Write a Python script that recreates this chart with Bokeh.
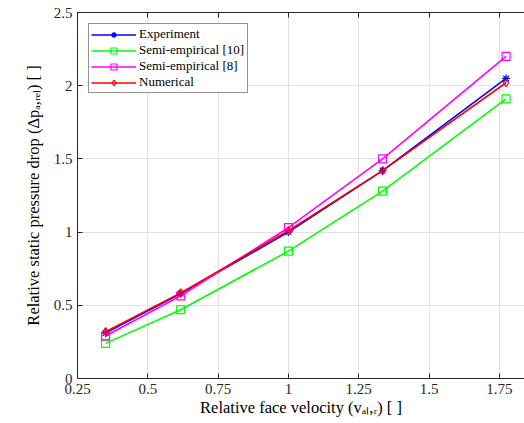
from bokeh.plotting import figure
from bokeh.models import Range1d, FixedTicker, LinearAxis, Legend, LegendItem
from bokeh.embed import file_html
from bokeh.resources import INLINE

# ---- data ----
velocity = [0.35, 0.617, 1.0, 1.335, 1.774]
experiment = [0.31, 0.58, 1.00, 1.42, 2.05]
semi_emp_10 = [0.24, 0.47, 0.87, 1.28, 1.91]
semi_emp_8 = [0.29, 0.565, 1.03, 1.50, 2.20]
numerical = [0.32, 0.585, 1.01, 1.42, 2.02]

series_names = ["Experiment", "Semi-empirical [10]", "Semi-empirical [8]", "Numerical"]
x_ticks = [0.25, 0.5, 0.75, 1.0, 1.25, 1.5, 1.75]
x_tick_labels = ["0.25", "0.5", "0.75", "1", "1.25", "1.5", "1.75"]
y_ticks = [0, 0.5, 1, 1.5, 2, 2.5]
y_tick_labels = ["0", "0.5", "1", "1.5", "2", "2.5"]
x_title = "Relative face velocity (v\u2090\u2097,\u1d63) [ ]"
y_title = "Relative static pressure drop (\u0394p\u2090,\u1d63\u2091\u2097) [ ]"

# ---- styling ----
FONT = "Liberation Serif"
AX = "#262626"
colors = ["#0000ff", "#00ff00", "#ff00ff", "#ff0000"]
markers = ["asterisk", "square", "square", "diamond"]

W, H = 524, 423
BL, BR, BT, BB = 77, 0, 12, 45
FW, FH = W - BL - BR, H - BT - BB

p = figure(width=W, height=H, output_backend="svg", toolbar_location=None,
           x_range=Range1d(0.25, 0.25 + FW / 281.2), y_range=Range1d(0, 2.5),
           min_border_left=BL, min_border_right=BR, min_border_top=BT, min_border_bottom=BB)
p.outline_line_color = None
p.background_fill_color = "white"
p.border_fill_color = "white"

def style_axis(ax, ticks, labels):
    ax.ticker = FixedTicker(ticks=ticks)
    ax.major_label_overrides = dict(zip(ticks, labels))
    ax.major_tick_in = 5
    ax.major_tick_out = 0
    ax.minor_tick_in = 0
    ax.minor_tick_out = 0
    ax.axis_line_color = AX
    ax.major_tick_line_color = AX
    ax.major_label_text_font = FONT
    ax.major_label_text_font_size = "15px"
    ax.major_label_text_color = AX
    ax.major_label_standoff = 5
    ax.axis_label_text_font = FONT
    ax.axis_label_text_font_size = "16.5px"
    ax.axis_label_text_font_style = "normal"
    ax.axis_label_text_color = "black"

xa, ya = p.xaxis[0], p.yaxis[0]
style_axis(xa, x_ticks, x_tick_labels)
style_axis(ya, y_ticks, y_tick_labels)
xa.axis_label = x_title
xa.axis_label_standoff = 1
ya.axis_label = y_title
ya.axis_label_standoff = 8

top = LinearAxis()
style_axis(top, x_ticks, x_tick_labels)
top.major_label_text_font_size = "1px"
top.major_label_text_color = None
top.major_label_standoff = 0
p.add_layout(top, "above")

p.xgrid.ticker = FixedTicker(ticks=x_ticks)
p.ygrid.ticker = FixedTicker(ticks=y_ticks)
p.grid.grid_line_color = "#e2e2e2"
p.grid.grid_line_width = 1

items = []
for name, vals, c, m in zip(series_names, [experiment, semi_emp_10, semi_emp_8, numerical], colors, markers):
    ln = p.line(velocity, vals, line_color=c, line_width=1.6)
    sc = p.scatter(velocity, vals, marker=m, size=8, line_color=c, fill_color=None, line_width=1.2)
    items.append(LegendItem(label=name, renderers=[ln, sc]))

legend = Legend(items=items, location="top_left", margin=11, padding=2, spacing=0,
                label_height=15, glyph_height=15, glyph_width=45, label_standoff=3,
                label_width=106,
                label_text_font=FONT, label_text_font_size="13px", label_text_color="black",
                border_line_color=AX, border_line_width=1, background_fill_color="white")
p.add_layout(legend)

open("out.html", "w").write(file_html(p, INLINE))
